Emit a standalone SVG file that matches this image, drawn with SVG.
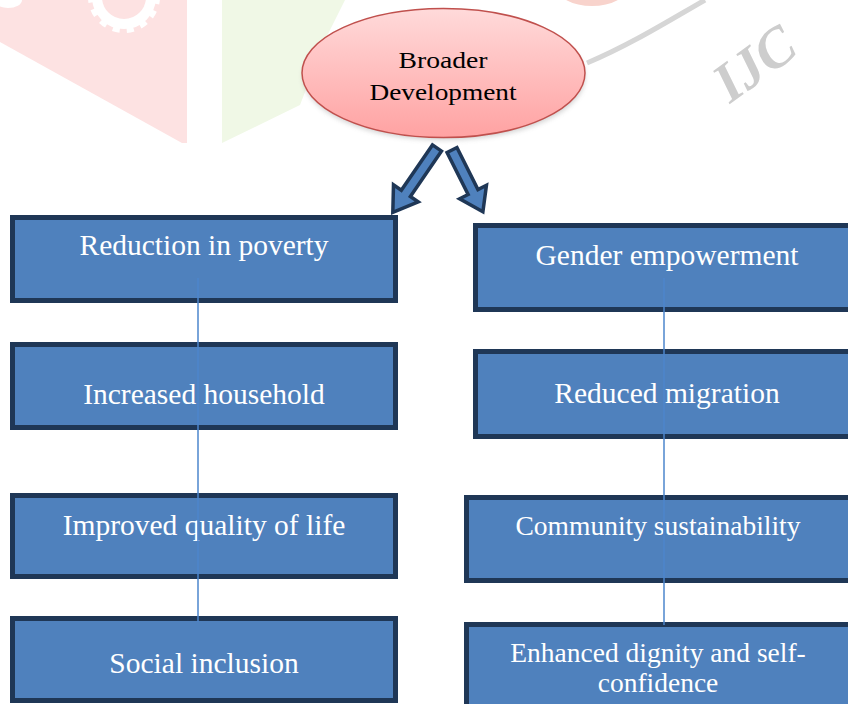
<svg xmlns="http://www.w3.org/2000/svg" width="848" height="704" viewBox="0 0 848 704">
  <defs>
    <linearGradient id="pinkGrad" x1="0" y1="0" x2="0" y2="1">
      <stop offset="0" stop-color="#FFDADA"/>
      <stop offset="1" stop-color="#FFA2A2"/>
    </linearGradient>
    <filter id="shadow" x="-20%" y="-20%" width="140%" height="150%">
      <feGaussianBlur stdDeviation="2.5"/>
    </filter>
    <style>
      .box { fill: #4F81BD; stroke: #1F3756; stroke-width: 5; }
      .lbl { font-family: "Liberation Serif", "Times New Roman", serif; fill: #FFFFFF; text-anchor: middle; font-size: 29.5px; }
      .lbl-s { font-size: 27.5px; }
      .conn { stroke: #4D86CC; stroke-width: 1.5; fill: none; }
      .arrow { fill: #4F81BD; stroke: #1F3756; stroke-width: 3.5; stroke-linejoin: miter; }
      .ell-lbl { font-family: "Liberation Serif", "Times New Roman", serif; fill: #000000; text-anchor: middle; font-size: 24px; }
    </style>
  </defs>

  <rect width="848" height="704" fill="#FFFFFF"/>

  <!-- faint watermark background -->
  <g id="watermark">
    <polygon points="0,0 187,0 187,143 182,143 0,42" fill="#FDE2E2"/>
    <circle cx="124" cy="-3" r="27" fill="none" stroke="#FFFFFF" stroke-width="10"/>
    <circle cx="124" cy="-3" r="33" fill="none" stroke="#FFFFFF" stroke-width="6" stroke-dasharray="7 7"/>
    <ellipse cx="8" cy="0" rx="14" ry="8" fill="#FFFFFF"/>
    <polygon points="222,0 345,0 325,40 300,105 222,143" fill="#F0F8E6"/>
    <ellipse cx="592" cy="-14" rx="36" ry="20" fill="#F8D3CC"/>
    <path d="M587,63 C630,45 670,20 705,0" stroke="#D6D6D6" stroke-width="5" fill="none"/>
    <text x="730" y="104" transform="rotate(-36 730 104)" font-family="Liberation Serif, serif" font-style="italic" font-weight="bold" font-size="56" fill="#CDCDCD">IJC</text>
  </g>

  <!-- root node -->
  <g id="node-broader">
    <ellipse cx="444" cy="77" rx="141" ry="63" fill="#9A9A9A" opacity="0.45" filter="url(#shadow)"/>
    <ellipse cx="443.5" cy="73" rx="141.5" ry="64.5" fill="url(#pinkGrad)" stroke="#C0504D" stroke-width="1.5"/>
    <text class="ell-lbl" x="443" y="68" textLength="89" lengthAdjust="spacingAndGlyphs">Broader</text>
    <text class="ell-lbl" x="443" y="100" textLength="147" lengthAdjust="spacingAndGlyphs">Development</text>
  </g>

  <!-- left column -->
  <g id="node-poverty">
    <rect class="box" x="12.5" y="217.5" width="383" height="83"/>
    <text class="lbl" x="204" y="255">Reduction in poverty</text>
  </g>
  <g id="node-household">
    <rect class="box" x="12.5" y="344.5" width="383" height="83"/>
    <text class="lbl" x="204" y="404">Increased household</text>
  </g>
  <g id="node-quality">
    <rect class="box" x="12.5" y="495.5" width="383" height="81"/>
    <text class="lbl" x="204" y="535">Improved quality of life</text>
  </g>
  <g id="node-inclusion">
    <rect class="box" x="12.5" y="618.5" width="383" height="82"/>
    <text class="lbl" x="204" y="673">Social inclusion</text>
  </g>

  <!-- right column -->
  <g id="node-gender">
    <rect class="box" x="475.5" y="225.5" width="385" height="84"/>
    <text class="lbl" x="667" y="265">Gender empowerment</text>
  </g>
  <g id="node-migration">
    <rect class="box" x="475.5" y="351.5" width="385" height="85"/>
    <text class="lbl" x="667" y="403">Reduced migration</text>
  </g>
  <g id="node-community">
    <rect class="box" x="466.5" y="497.5" width="395" height="83"/>
    <text class="lbl lbl-s" x="658" y="535">Community sustainability</text>
  </g>
  <g id="node-dignity">
    <rect class="box" x="466.5" y="624.5" width="395" height="100"/>
    <text class="lbl lbl-s" x="658" y="662">Enhanced dignity and self-</text>
    <text class="lbl lbl-s" x="658" y="692">confidence</text>
  </g>

  <!-- connectors (drawn over the boxes, as in the reference) -->
  <g id="connectors">
    <line class="conn" x1="198" y1="278" x2="198" y2="622"/>
    <line class="conn" x1="664" y1="278" x2="664" y2="625"/>
    <polygon class="arrow" transform="translate(437 148) rotate(124.5)" points="0,-5.5 55,-5.5 55,-15 78,0 55,15 55,5.5 0,5.5"/>
    <polygon class="arrow" transform="translate(452 150) rotate(63.4)" points="0,-5.5 47,-5.5 47,-15 69,0 47,15 47,5.5 0,5.5"/>
  </g>
</svg>
